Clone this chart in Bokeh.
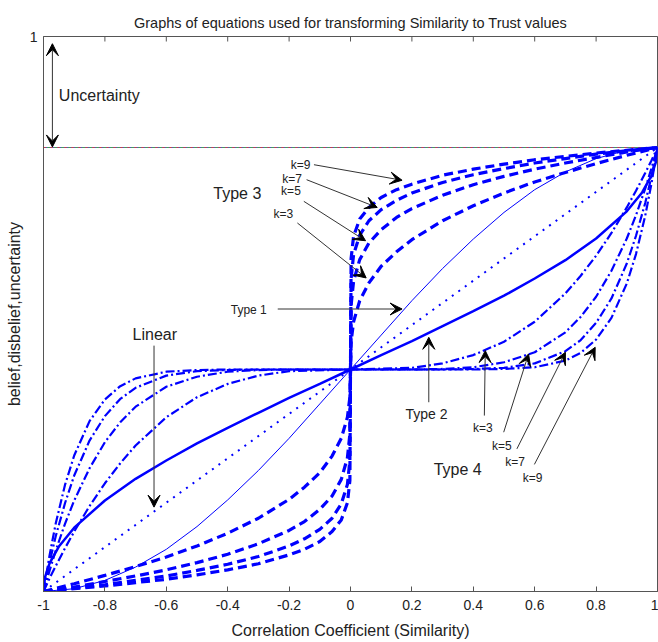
import math
from bokeh.plotting import figure
from bokeh.models import Arrow, VeeHead, Label, FixedTicker, Range1d
from bokeh.embed import file_html
from bokeh.resources import INLINE

FONT = "Liberation Sans"
BLUE = "#0000ff"

# ---------------- data ----------------
X_TICKS = [-1, -0.8, -0.6, -0.4, -0.2, 0, 0.2, 0.4, 0.6, 0.8, 1]
X_TICK_LABELS = ["-1", "-0.8", "-0.6", "-0.4", "-0.2", "0", "0.2", "0.4", "0.6", "0.8", "1"]
Y_TICKS = [1]
Y_TICK_LABELS = ["1"]
Y_TOP = 1

# uncertainty boundary
UNC_X = [-1, 1]
UNC_Y = [0.8, 0.8]

# Linear (dotted)
LIN_X = [-1, 0, 1]
LIN_Y = [0.0, 0.4, 0.8]

# Type 1 (thin solid)
T1_X = [-1, -0.9, -0.8, -0.7, -0.6, -0.5, -0.4, -0.3, -0.2, -0.1, 0,
        0.1, 0.2, 0.3, 0.4, 0.5, 0.6, 0.7, 0.8, 0.9, 1]
T1_Y = [0, 0.005, 0.020, 0.044, 0.076, 0.117, 0.165, 0.218, 0.276, 0.338, 0.4,
        0.462, 0.524, 0.582, 0.635, 0.683, 0.724, 0.756, 0.780, 0.795, 0.8]

# Type 2 (thick solid)
T2_X = [-1, -0.995, -0.98, -0.95, -0.9, -0.8, -0.7, -0.6, -0.5, -0.4, -0.3, -0.2, -0.1, 0,
        0.1, 0.2, 0.3, 0.4, 0.5, 0.6, 0.7, 0.8, 0.9, 0.95, 0.98, 0.995, 1]
T2_Y = [0, 0.026, 0.051, 0.081, 0.115, 0.164, 0.203, 0.236, 0.267, 0.295, 0.322, 0.349, 0.374, 0.4,
        0.426, 0.451, 0.478, 0.505, 0.533, 0.564, 0.597, 0.636, 0.685, 0.719, 0.749, 0.774, 0.8]

# Type 3 (dashed), k = 3, 5, 7, 9
T3_X = [-1, -0.9, -0.8, -0.7, -0.6, -0.5, -0.4, -0.3, -0.2, -0.15, -0.1, -0.06, -0.03, -0.01, -0.002, 0,
        0.002, 0.01, 0.03, 0.06, 0.1, 0.15, 0.2, 0.3, 0.4, 0.5, 0.6, 0.7, 0.8, 0.9, 1]
T3_K3 = [0, 0.014, 0.029, 0.045, 0.062, 0.082, 0.105, 0.132, 0.166, 0.188, 0.214, 0.244, 0.276, 0.314, 0.350, 0.4,
         0.450, 0.486, 0.524, 0.556, 0.586, 0.612, 0.634, 0.668, 0.695, 0.718, 0.738, 0.755, 0.771, 0.786, 0.8]
T3_K5 = [0, 0.008, 0.018, 0.028, 0.039, 0.052, 0.067, 0.086, 0.110, 0.126, 0.148, 0.172, 0.202, 0.241, 0.284, 0.4,
         0.516, 0.559, 0.598, 0.628, 0.652, 0.674, 0.690, 0.714, 0.733, 0.748, 0.761, 0.772, 0.782, 0.792, 0.8]
T3_K7 = [0, 0.006, 0.012, 0.020, 0.028, 0.038, 0.049, 0.063, 0.082, 0.095, 0.112, 0.132, 0.158, 0.193, 0.236, 0.4,
         0.564, 0.607, 0.642, 0.668, 0.688, 0.705, 0.718, 0.737, 0.751, 0.762, 0.772, 0.780, 0.788, 0.794, 0.8]
T3_K9 = [0, 0.005, 0.010, 0.016, 0.022, 0.030, 0.039, 0.050, 0.066, 0.076, 0.090, 0.108, 0.129, 0.160, 0.200, 0.4,
         0.600, 0.640, 0.671, 0.692, 0.710, 0.724, 0.734, 0.750, 0.761, 0.770, 0.778, 0.784, 0.790, 0.795, 0.8]

# Type 4 (dash-dot), k = 3, 5, 7, 9
T4_X = [-1, -0.98, -0.96, -0.93, -0.9, -0.85, -0.8, -0.75, -0.7, -0.6, -0.5, -0.4, -0.3, -0.2, 0,
        0.2, 0.3, 0.4, 0.5, 0.6, 0.7, 0.75, 0.8, 0.85, 0.9, 0.93, 0.96, 0.98, 1]
T4_K3 = [0, 0.024, 0.046, 0.078, 0.108, 0.154, 0.195, 0.231, 0.263, 0.314, 0.350, 0.374, 0.389, 0.397, 0.4,
         0.403, 0.411, 0.426, 0.450, 0.486, 0.537, 0.569, 0.605, 0.646, 0.692, 0.722, 0.754, 0.776, 0.8]
T4_K5 = [0, 0.038, 0.074, 0.122, 0.164, 0.222, 0.269, 0.305, 0.333, 0.369, 0.387, 0.396, 0.399, 0.400, 0.4,
         0.400, 0.401, 0.404, 0.413, 0.431, 0.467, 0.495, 0.531, 0.578, 0.636, 0.678, 0.726, 0.762, 0.8]
T4_K7 = [0, 0.053, 0.100, 0.159, 0.209, 0.272, 0.316, 0.347, 0.367, 0.389, 0.397, 0.399, 0.400, 0.400, 0.4,
         0.400, 0.400, 0.401, 0.403, 0.411, 0.433, 0.453, 0.484, 0.528, 0.591, 0.641, 0.700, 0.747, 0.8]
T4_K9 = [0, 0.066, 0.123, 0.192, 0.245, 0.307, 0.346, 0.370, 0.384, 0.396, 0.399, 0.400, 0.400, 0.400, 0.4,
         0.400, 0.400, 0.400, 0.401, 0.404, 0.416, 0.430, 0.454, 0.493, 0.555, 0.608, 0.677, 0.734, 0.8]

# ---------------- figure ----------------
p = figure(width=658, height=642, x_range=Range1d(-1, 1), y_range=Range1d(0, 1),
           output_backend="svg", toolbar_location=None,
           min_border_left=43, min_border_right=1, min_border_top=36, min_border_bottom=51)
p.background_fill_color = "white"
p.border_fill_color = "white"
p.xgrid.visible = False
p.ygrid.visible = False
p.outline_line_color = "#555555"
p.outline_line_width = 1

p.title.text = "Graphs of equations used for transforming Similarity to Trust values"
p.title.align = "center"
p.title.text_font = FONT
p.title.text_font_size = "14.5px"
p.title.text_font_style = "normal"
p.title.text_color = "#222222"
p.title.standoff = 12

for ax in p.xaxis:
    ax.ticker = FixedTicker(ticks=X_TICKS)
    ax.major_label_overrides = {t: l for t, l in zip(X_TICKS, X_TICK_LABELS)}
    ax.major_tick_in = 5
    ax.major_tick_out = 0
    ax.minor_tick_line_color = None
    ax.axis_line_color = "#555555"
    ax.major_tick_line_color = "#555555"
    ax.major_label_text_font = FONT
    ax.major_label_text_font_size = "14px"
    ax.major_label_text_color = "#222222"
    ax.major_label_standoff = 8
    ax.axis_label = "Correlation Coefficient (Similarity)"
    ax.axis_label_text_font = FONT
    ax.axis_label_text_font_size = "16px"
    ax.axis_label_text_font_style = "normal"
    ax.axis_label_text_color = "#222222"
    ax.axis_label_standoff = 9

for ax in p.yaxis:
    ax.ticker = FixedTicker(ticks=Y_TICKS)
    ax.major_label_overrides = {t: l for t, l in zip(Y_TICKS, Y_TICK_LABELS)}
    ax.major_tick_in = 0
    ax.major_tick_out = 0
    ax.minor_tick_line_color = None
    ax.axis_line_color = "#555555"
    ax.major_label_text_font = FONT
    ax.major_label_text_font_size = "14px"
    ax.major_label_text_color = "#222222"
    ax.major_label_standoff = 6
    ax.axis_label = "belief,disbelief,uncertainty"
    ax.axis_label_text_font = FONT
    ax.axis_label_text_font_size = "16px"
    ax.axis_label_text_font_style = "normal"
    ax.axis_label_text_color = "#222222"
    ax.axis_label_standoff = 4

# tick marks along the top edge of the box (half of each marker is clipped by the frame)
p.scatter(X_TICKS, [Y_TOP] * len(X_TICKS), marker="dash", angle=math.pi / 2, size=10,
          line_color="#555555", line_width=1)

# uncertainty boundary line (speckled look)
p.line(UNC_X, UNC_Y, line_color="#5a5ab0", line_width=1.2)
p.line(UNC_X, UNC_Y, line_color="#d04040", line_width=1.2, line_dash="2 5")
p.line(UNC_X, UNC_Y, line_color="#40b040", line_width=1.2, line_dash="2 5", line_dash_offset=3)

# curves
p.line(LIN_X, LIN_Y, line_color=BLUE, line_width=2, line_dash="2 6")
p.line(T1_X, T1_Y, line_color=BLUE, line_width=1)
p.line(T2_X, T2_Y, line_color=BLUE, line_width=2.5)
for ys in (T3_K3, T3_K5, T3_K7, T3_K9):
    p.line(T3_X, ys, line_color=BLUE, line_width=3.2, line_dash="9 5")
for ys in (T4_K3, T4_K5, T4_K7, T4_K9):
    p.line(T4_X, ys, line_color=BLUE, line_width=2.2, line_dash="9 3 2 3")


def label(x, y, text, size):
    p.add_layout(Label(x=x, y=y, text=text, text_font=FONT, text_font_size=size,
                       text_baseline="middle", text_align="left", text_color="#222222"))


def arrow(x0, y0, x1, y1):
    head = VeeHead(size=12, fill_color="black", line_color="black")
    p.add_layout(Arrow(start=None, end=head, x_start=x0, y_start=y0, x_end=x1, y_end=y1,
                       line_color="#333333", line_width=1))


# annotations
label(-0.950, 0.894, "Uncertainty", "16px")
arrow(-0.971, 0.90, -0.971, 0.987)
arrow(-0.971, 0.90, -0.971, 0.801)

label(-0.447, 0.717, "Type 3", "16px")
label(-0.195, 0.769, "k=9", "12px")
label(-0.222, 0.744, "k=7", "12px")
label(-0.226, 0.722, "k=5", "12px")
label(-0.251, 0.680, "k=3", "12px")
arrow(-0.119, 0.769, 0.168, 0.741)
arrow(-0.143, 0.742, 0.087, 0.692)
arrow(-0.152, 0.703, 0.049, 0.632)
arrow(-0.173, 0.664, 0.051, 0.565)

label(-0.390, 0.508, "Type 1", "12px")
arrow(-0.237, 0.509, 0.168, 0.509)

label(-0.710, 0.463, "Linear", "16px")
arrow(-0.640, 0.443, -0.640, 0.152)

label(0.179, 0.319, "Type 2", "14px")
arrow(0.255, 0.341, 0.255, 0.458)

label(0.399, 0.294, "k=3", "12px")
label(0.461, 0.263, "k=5", "12px")
label(0.504, 0.233, "k=7", "12px")
label(0.561, 0.205, "k=9", "12px")
label(0.271, 0.219, "Type 4", "16px")
arrow(0.436, 0.317, 0.439, 0.434)
arrow(0.499, 0.287, 0.580, 0.428)
arrow(0.542, 0.257, 0.700, 0.431)
arrow(0.599, 0.229, 0.797, 0.440)

open("out.html", "w").write(file_html(p, INLINE))
